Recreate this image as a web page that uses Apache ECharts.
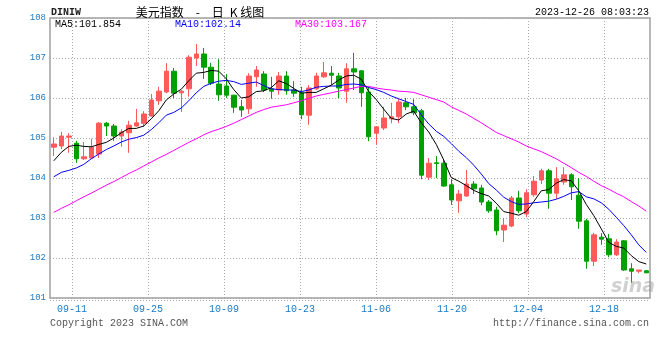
<!DOCTYPE html>
<html><head><meta charset="utf-8">
<script src="https://cdn.jsdelivr.net/npm/echarts@6/dist/echarts.min.js"></script>
<style>html,body{margin:0;padding:0;background:#fff}#c{width:660px;height:360px}</style>
</head><body><div id="c"></div>
<script>
const dates = ['09-06','09-07','09-08','09-11','09-12','09-13','09-14','09-15','09-18','09-19','09-20','09-21','09-22','09-25','09-26','09-27','09-28','09-29',
'10-02','10-03','10-04','10-05','10-06','10-09','10-10','10-11','10-12','10-13','10-16','10-17','10-18','10-19','10-20','10-23','10-24','10-25','10-26','10-27','10-30','10-31',
'11-01','11-02','11-03','11-06','11-07','11-08','11-09','11-10','11-13','11-14','11-15','11-16','11-17','11-20','11-21','11-22','11-23','11-24','11-27','11-28','11-29','11-30',
'12-01','12-04','12-05','12-06','12-07','12-08','12-11','12-12','12-13','12-14','12-15','12-18','12-19','12-20','12-21','12-22','12-25','12-26'];
const openP = [104.77,104.80,105.02,104.87,104.48,104.50,104.60,105.37,105.30,105.05,
105.13,105.30,105.37,105.55,105.93,106.15,106.67,106.13,106.23,107.00,
107.10,106.77,106.35,106.30,106.07,105.78,105.73,106.53,106.60,106.23,
106.20,106.55,106.20,106.13,105.57,106.23,106.53,106.62,106.55,106.17,
106.73,106.68,106.15,105.12,105.25,105.48,105.53,105.88,105.78,105.68,
104.02,104.38,104.37,103.83,103.43,103.55,103.85,103.75,103.40,103.20,
102.70,102.80,103.50,103.10,103.58,103.95,104.18,103.62,103.90,104.08,
103.57,102.93,101.92,102.52,102.48,102.08,102.43,101.73,101.67,101.68];
const closeP = [104.85,105.05,105.05,104.48,104.53,104.77,105.37,105.30,105.05,105.15,
105.32,105.38,105.60,105.95,106.17,106.67,106.12,106.17,107.02,107.10,
106.77,106.37,106.08,106.07,105.77,105.70,106.55,106.70,106.20,106.17,
106.55,106.18,106.12,105.58,106.25,106.55,106.63,106.57,106.25,106.73,
106.65,106.13,105.03,105.28,105.50,105.53,105.90,105.78,105.63,104.07,
104.37,104.36,103.80,103.45,103.60,103.85,103.73,103.40,103.18,102.68,
102.82,103.50,103.18,103.63,103.92,104.18,103.62,103.98,104.08,103.78,
102.92,101.92,102.58,102.47,102.08,102.40,101.70,101.67,101.70,101.63];
const lowP = [104.55,104.72,104.63,104.38,104.45,104.48,104.50,105.05,104.93,104.78,
104.63,105.28,105.28,105.53,105.83,106.12,106.00,105.65,106.03,106.80,
106.48,106.32,105.93,106.00,105.63,105.53,105.60,106.28,106.15,105.98,
106.08,106.08,106.03,105.47,105.33,106.20,106.50,106.33,106.00,105.88,
106.20,105.78,104.92,104.83,105.20,105.37,105.37,105.70,105.57,103.97,
103.95,104.00,103.78,103.33,103.13,103.53,103.60,103.32,103.13,102.57,
102.40,102.77,103.12,103.02,103.53,103.85,103.23,103.48,103.83,103.45,
102.73,101.73,101.80,102.33,102.02,102.05,101.68,101.38,101.62,101.62];
const highP = [105.02,105.15,105.12,104.93,104.90,104.98,105.40,105.40,105.35,105.22,
105.43,105.73,105.67,106.10,106.28,106.87,106.75,106.20,107.07,107.35,
107.25,106.88,106.97,106.60,106.08,105.95,106.62,106.80,106.67,106.53,
106.65,106.67,106.42,106.28,106.32,106.63,106.90,106.80,106.63,106.87,
107.13,106.70,106.28,105.30,105.78,105.88,105.97,106.00,105.97,105.73,
104.50,104.55,104.45,103.97,103.70,104.20,103.92,103.83,103.45,103.28,
103.00,103.55,103.68,103.72,104.05,104.23,104.23,104.27,104.27,104.12,
104.00,102.98,102.63,102.62,102.60,102.47,102.45,101.87,101.70,101.70];
const ma5 = [104.43,104.64,104.79,104.82,104.79,104.78,104.84,104.89,105.00,105.13,
105.24,105.24,105.30,105.48,105.68,105.95,106.10,106.22,106.43,106.62,
106.64,106.69,106.67,106.48,106.21,106.00,106.03,106.16,106.18,106.26,
106.43,106.36,106.24,106.12,106.14,106.14,106.23,106.32,106.45,106.55,
106.57,106.47,106.16,105.96,105.72,105.49,105.45,105.60,105.67,105.38,
105.15,104.84,104.45,104.01,103.92,103.81,103.69,103.61,103.55,103.37,
103.16,103.12,103.07,103.16,103.41,103.68,103.71,103.87,103.96,103.93,
103.68,103.34,103.06,102.73,102.39,102.29,102.25,102.06,101.91,101.85];
const ma10 = [104.03,104.14,104.19,104.25,104.34,104.48,104.60,104.71,104.80,104.90,
104.97,105.01,105.07,105.21,105.38,105.57,105.64,105.75,105.93,106.13,
106.29,106.37,106.42,106.44,106.41,106.34,106.37,106.40,106.31,106.23,
106.21,106.20,106.20,106.16,106.20,106.27,106.29,106.30,106.30,106.34,
106.35,106.33,106.26,106.21,106.14,106.05,105.98,105.91,105.84,105.58,
105.35,105.17,105.04,104.86,104.67,104.51,104.32,104.10,103.86,103.70,
103.52,103.41,103.34,103.35,103.38,103.40,103.42,103.47,103.54,103.63,
103.66,103.53,103.48,103.38,103.22,103.02,102.81,102.58,102.33,102.14];
const ma30 = [103.14,103.24,103.33,103.43,103.53,103.62,103.72,103.82,103.91,104.01,
104.11,104.20,104.30,104.40,104.50,104.59,104.69,104.79,104.89,104.98,
105.08,105.16,105.22,105.29,105.37,105.46,105.55,105.64,105.71,105.77,
105.80,105.83,105.88,105.93,105.99,106.05,106.09,106.13,106.17,106.21,
106.25,106.29,106.29,106.25,106.22,106.20,106.17,106.16,106.14,106.08,
106.02,105.96,105.90,105.78,105.69,105.60,105.49,105.38,105.26,105.14,
105.06,104.98,104.90,104.80,104.73,104.66,104.57,104.48,104.37,104.26,
104.14,104.04,103.92,103.81,103.72,103.62,103.53,103.41,103.30,103.17];
const xTickLabels = ['09-11','09-25','10-09','10-23','11-06','11-20','12-04','12-18'];
const maLabels = ['MA5:101.854','MA10:102.14','MA30:103.167'];
const titleText = '美元指数\u2002\u2002-\u2002\u2002日\u2002K 线图';

const kData = dates.map((d, i) => [openP[i], closeP[i], lowP[i], highP[i]]);
const mono = '"Liberation Mono","DejaVu Sans Mono",monospace';
const blue = '#1a7ac6';
const upC = '#ff5959', downC = '#00a000';
const gridStyle = {color: '#a8a8a8', type: [1, 2], width: 1};

const chart = echarts.init(document.getElementById('c'), null, {renderer: 'canvas'});
function txt(text, x, y, fill, font, align) {
  return {type: 'text', silent: true, z: 100,
    style: {text: text, x: x, y: y, fill: fill, font: font, textAlign: align || 'left', align: align || 'left',
            textVerticalAlign: 'middle', verticalAlign: 'middle'}};
}
chart.setOption({
  animation: false,
  backgroundColor: '#fff',
  grid: [
    {left: 50, right: 10, top: 18, bottom: 62, show: true, borderColor: '#a0a0a0', borderWidth: 1.5, backgroundColor: 'transparent'},
    {left: 72, right: 56, top: 18, bottom: 62}
  ],
  xAxis: [
    {type: 'category', gridIndex: 0, data: dates, boundaryGap: true,
     axisLine: {show: false}, axisTick: {show: false}, axisLabel: {show: false}, splitLine: {show: false}},
    {type: 'value', gridIndex: 1, min: 0, max: xTickLabels.length - 1, interval: 1,
     axisLine: {show: false}, axisTick: {show: false},
     axisLabel: {color: blue, fontFamily: mono, fontSize: 10, margin: 6,
                 formatter: v => xTickLabels[Math.round(v)] || ''},
     splitLine: {show: true, lineStyle: gridStyle}}
  ],
  yAxis: [
    {type: 'value', gridIndex: 0, min: 101, max: 108, interval: 1,
     axisLine: {show: false}, axisTick: {show: false},
     axisLabel: {color: blue, fontFamily: mono, fontSize: 9, margin: 4},
     splitLine: {show: true, lineStyle: gridStyle}},
    {type: 'value', gridIndex: 1, min: 0, max: 1, show: false}
  ],
  series: [
    {type: 'candlestick', xAxisIndex: 0, yAxisIndex: 0, data: kData, barWidth: 5, silent: true,
     itemStyle: {color: upC, color0: downC, borderColor: upC, borderColor0: downC, borderWidth: 1}},
    {type: 'line', xAxisIndex: 0, yAxisIndex: 0, data: ma30, symbol: 'none', silent: true, z: 3,
     lineStyle: {color: '#ff00ff', width: 1}},
    {type: 'line', xAxisIndex: 0, yAxisIndex: 0, data: ma10, symbol: 'none', silent: true, z: 3,
     lineStyle: {color: '#0000ff', width: 1}},
    {type: 'line', xAxisIndex: 0, yAxisIndex: 0, data: ma5, symbol: 'none', silent: true, z: 3,
     lineStyle: {color: '#000000', width: 1}}
  ],
  graphic: [
    txt('DINIW', 51, 12, '#222', 'bold 10px ' + mono),
    txt(titleText, 200, 12, '#000', '12px "Noto Sans CJK SC"', 'center'),
    txt('2023-12-26 08:03:23', 649, 12, '#000', '10px ' + mono, 'right'),
    txt(maLabels[0], 55, 24, '#000', '10px ' + mono),
    txt(maLabels[1], 175, 24, '#0000ff', '10px ' + mono),
    txt(maLabels[2], 295, 24, '#ff00ff', '10px ' + mono),
    txt('Copyright 2023 SINA.COM', 50, 323, '#555', '10px ' + mono),
    txt('http://finance.sina.com.cn', 649, 323, '#555', '10px ' + mono, 'right'),
    txt('sina', 633, 287, 'rgba(150,150,150,0.45)', 'italic bold 19px "DejaVu Sans"', 'center'),
    {type: 'line', silent: true, z: 50,
     shape: {x1: 50, y1: 300.5, x2: 650, y2: 300.5},
     style: {stroke: '#a8a8a8', lineWidth: 1, lineDash: [1, 2]}}
  ]
});
</script>
</body></html>
